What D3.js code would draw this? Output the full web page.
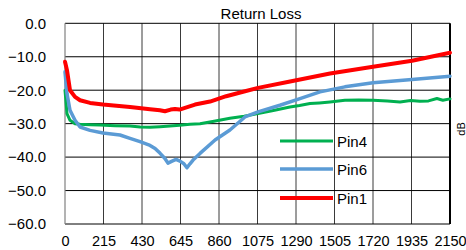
<!DOCTYPE html>
<html><head><meta charset="utf-8">
<script src="https://cdn.jsdelivr.net/npm/d3@7"></script>
<style>body{margin:0;background:#fff;}svg{display:block;font-family:"Liberation Sans",Arial,sans-serif;}</style>
</head><body>
<script>
const xTicks = [0,215,430,645,860,1075,1290,1505,1720,1935,2150];
const yTicks = [0,-10,-20,-30,-40,-50,-60];
const seriesNames = ["Pin4","Pin6","Pin1"];
const seriesColors = ["#00b050","#5b9bd5","#ff0000"];
const pin4F = [0,11,28,56,84,140,195,280,363,420,475,530,586,640,698,754,840,921,1000,1078,1170,1256,1310,1368,1420,1480,1563,1640,1720,1800,1871,1930,1982,2030,2077,2110,2150];
const pin4V = [-20,-27,-29,-30,-30.2,-30.3,-30.4,-30.6,-30.7,-31,-31.1,-30.9,-30.7,-30.5,-30.2,-30,-29.2,-28.4,-27.8,-27,-26,-25,-24.6,-24,-23.8,-23.5,-23,-22.9,-23,-23.2,-23.5,-23.1,-23.3,-23.2,-22.5,-23,-22.6];
const pin6F = [0,11,28,56,84,140,212,307,363,419,475,503,530,558,575,598,620,642,664,681,698,715,754,838,921,1005,1078,1200,1312,1424,1563,1720,1938,2150];
const pin6V = [-14.5,-21,-26,-29,-31,-32,-32.8,-33.4,-34.4,-35.4,-36.5,-37.4,-38.8,-40.4,-41.8,-41.2,-40.7,-41.2,-42,-43.2,-42,-40.9,-38.9,-34.9,-31.9,-28,-26.5,-24.5,-22.5,-20.5,-19,-17.8,-16.8,-15.8];
const pin1F = [0,11,28,56,84,140,212,363,475,530,558,590,614,640,670,726,810,900,1000,1078,1250,1480,1720,1938,2150];
const pin1V = [-11.5,-14,-20,-22,-23,-23.8,-24.3,-25,-25.7,-26,-26.3,-25.8,-25.6,-25.8,-25.3,-24.3,-23.4,-21.8,-20.4,-19.3,-17.5,-15,-13,-11.2,-8.8];

const W=466,H=250;
const svg=d3.select("body").append("svg").attr("width",W).attr("height",H);
const x=d3.scaleLinear().domain([0,2150]).range([65,450]);
const y=d3.scaleLinear().domain([-60,0]).range([224,23.3]);

// grid
svg.append("g").selectAll("line").data(xTicks.slice(1)).join("line")
  .attr("x1",d=>x(d)).attr("x2",d=>x(d)).attr("y1",y(0)).attr("y2",y(-60))
  .attr("stroke",d=>d===2150?"#000":"#3a3a3a").attr("stroke-width",d=>d===2150?2:1);
svg.append("g").selectAll("line").data(yTicks).join("line")
  .attr("x1",x(0)).attr("x2",x(2150)).attr("y1",d=>y(d)).attr("y2",d=>y(d))
  .attr("stroke","#000").attr("stroke-width",1);
svg.append("line").attr("x1",x(0)).attr("x2",x(0)).attr("y1",y(0)).attr("y2",y(-60)).attr("stroke","#808080").attr("stroke-width",1.2);

// axes labels
const xAxis=d3.axisBottom(x).tickValues(xTicks).tickSize(0).tickPadding(12).tickFormat(d=>d);
const gx=svg.append("g").attr("transform",`translate(0,${y(-60)})`).call(xAxis);
gx.select(".domain").remove();
gx.selectAll("text").attr("font-size","14.5px").attr("fill","#000").attr("font-family","Liberation Sans, Arial, sans-serif");
const yAxis=d3.axisLeft(y).tickValues(yTicks).tickSize(0).tickPadding(19).tickFormat(d3.format(".1f"));
const gy=svg.append("g").attr("transform",`translate(${x(0)},0)`).call(yAxis);
gy.select(".domain").remove();
gy.selectAll("text").attr("font-size","15px").attr("fill","#000").attr("font-family","Liberation Sans, Arial, sans-serif");

// lines
const series=[
  {name:"Pin4",f:pin4F,v:pin4V,c:seriesColors[0],w:3},
  {name:"Pin6",f:pin6F,v:pin6V,c:seriesColors[1],w:3.5},
  {name:"Pin1",f:pin1F,v:pin1V,c:seriesColors[2],w:4}
];
const line=d3.line().x(d=>x(d[0])).y(d=>y(d[1]));
series.forEach(s=>{
  svg.append("path").datum(s.f.map((f,i)=>[f,s.v[i]]))
    .attr("d",line).attr("fill","none").attr("stroke",s.c).attr("stroke-width",s.w)
    .attr("stroke-linejoin","round").attr("stroke-linecap","round");
});

// title
svg.append("text").attr("x",261).attr("y",19).attr("text-anchor","middle").attr("font-size","15px").text("Return Loss");

// legend
const legY=[141,169,198];
series.forEach((s,i)=>{
  svg.append("line").attr("x1",280).attr("x2",333).attr("y1",legY[i]).attr("y2",legY[i]).attr("stroke",s.c).attr("stroke-width",s.w);
  svg.append("text").attr("x",337).attr("y",legY[i]+5.5).attr("font-size","15px").text(s.name);
});

// axis title on right edge
svg.append("text").attr("transform","translate(465,129) rotate(-90)").attr("text-anchor","middle").attr("font-size","11px").text("dB");
</script>
</body></html>
